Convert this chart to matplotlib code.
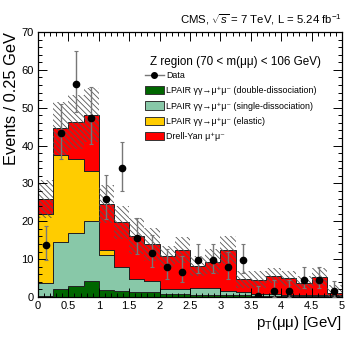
import numpy as np
import matplotlib
matplotlib.use("Agg")
import matplotlib.pyplot as plt
from matplotlib.patches import Patch
from matplotlib.lines import Line2D
from matplotlib.ticker import MultipleLocator, FormatStrFormatter

plt.rcParams['font.family'] = ['Liberation Sans', 'DejaVu Sans']
plt.rcParams['mathtext.fontset'] = 'custom'
plt.rcParams['mathtext.rm'] = 'Liberation Sans'
plt.rcParams['mathtext.it'] = 'Liberation Sans:italic'
plt.rcParams['hatch.linewidth'] = 0.6

# pT bins, 0.25 GeV wide
edges = np.linspace(0, 5, 21)

# stacked MC, events per bin (bottom to top)
double_diss = [0.2, 2.1, 3.0, 4.2, 1.8, 1.5, 1.2, 1.2, 0.7, 0.7,
               0.4, 0.4, 0.4, 0.4, 0.3, 0.3, 0.3, 0.3, 0.3, 0.3]
single_diss = [3.5, 12.3, 14.0, 15.9, 9.3, 6.5, 3.5, 3.1, 1.3, 1.3,
               1.9, 2.0, 1.2, 1.0, 0.4, 0.4, 0.2, 0.2, 0.2, 0.2]
elastic = [18.2, 23.0, 19.4, 13.2, 1.3, 0, 0, 0, 0, 0,
           0, 0, 0, 0, 0, 0, 0, 0, 0, 0]
drell_yan = [4.0, 7.2, 9.8, 14.8, 12.1, 11.7, 11.4, 9.6, 8.7, 10.5,
             5.9, 6.9, 10.7, 3.3, 3.9, 4.9, 4.4, 3.2, 4.8, 0.6]
# uncertainty on total prediction (hatched band half-width)
mc_unc = [5.1, 7.0, 7.2, 7.2, 5.0, 4.4, 4.8, 4.4, 2.8, 3.4,
          2.7, 3.3, 3.7, 2.3, 2.3, 2.0, 2.0, 1.9, 2.3, 2.1]

# data with asymmetric errors
data = [13.8, 43.3, 56.3, 47.3, 25.9, 34.0, 15.7, 11.7, 7.8, 6.7,
        9.7, 9.7, 7.8, 9.7, 0.3, 1.5, 1.5, 4.5, 4.5, 1.5]
data_hi = [18.8, 51.0, 65.0, 55.4, 32.1, 40.9, 21.0, 16.4, 12.8, 10.7,
           14.0, 14.0, 12.0, 14.0, 2.9, 4.5, 4.5, 8.0, 8.0, 4.3]
data_lo = [9.8, 36.4, 48.9, 40.4, 20.6, 28.1, 11.4, 8.0, 4.8, 3.9,
           6.4, 6.4, 4.7, 6.4, 0.0, 0.0, 0.0, 2.3, 2.3, 0.0]

components = [
    (double_diss, '#006600', 'LPAIR γγ→μ⁺μ⁻ (double-dissociation)'),
    (single_diss, '#88c8a8', 'LPAIR γγ→μ⁺μ⁻ (single-dissociation)'),
    (elastic, '#ffcc00', 'LPAIR γγ→μ⁺μ⁻ (elastic)'),
    (drell_yan, '#ff0000', 'Drell-Yan μ⁺μ⁻'),
]

fig = plt.figure(figsize=(3.54, 3.40), dpi=100)
ax = fig.add_axes([38/354, 1-297/340, 304/354, 265/340])

base = np.zeros(len(edges) - 1)
handles = []
for vals, col, lab in components:
    top = base + np.array(vals)
    ax.stairs(top, edges, baseline=base, fill=True, facecolor=col,
              edgecolor='#222222', linewidth=0.7)
    handles.append(Patch(facecolor=col, edgecolor='#333333', linewidth=0.7, label=lab))
    base = top

total = base
unc = np.array(mc_unc)
ax.stairs(total + unc, edges, baseline=total - unc, fill=True,
          facecolor='none', edgecolor='#555555', hatch='\\\\\\\\\\\\', linewidth=0)

centers = 0.5 * (edges[:-1] + edges[1:])
d = np.array(data)
yerr = [d - np.array(data_lo), np.array(data_hi) - d]
ax.errorbar(centers, d, yerr=yerr, fmt='o', color='black', ms=4.5,
            ecolor='#777777', elinewidth=1.0, capsize=1.2, capthick=0.8, zorder=5)

ax.set_xlim(0, 5)
ax.set_ylim(0, 70)
ax.xaxis.set_major_locator(MultipleLocator(0.5))
ax.xaxis.set_minor_locator(MultipleLocator(0.1))
ax.yaxis.set_major_locator(MultipleLocator(10))
ax.yaxis.set_minor_locator(MultipleLocator(2))
ax.xaxis.set_major_formatter(FormatStrFormatter('%g'))
ax.yaxis.set_major_formatter(FormatStrFormatter('%g'))
ax.tick_params(which='both', direction='in', top=True, right=True, labelsize=8, width=0.7)
ax.tick_params(which='major', length=6.5, pad=3)
ax.tick_params(which='minor', length=3.2)
for sp in ax.spines.values():
    sp.set_linewidth(0.9)
ax.yaxis.get_major_ticks()[0].label1.set_visible(False)

ax.set_ylabel('Events / 0.25 GeV', fontsize=11.8, loc='top', labelpad=2)
ax.set_xlabel(r'p$_{\mathrm{T}}$(μμ) [GeV]', fontsize=10.8, loc='right', labelpad=2)

fig.text(342/354, 1-20/340, r'CMS, $\sqrt{s}$ = 7 TeV, L = 5.24 fb$^{-1}$',
         ha='right', va='center', fontsize=8.2)
ax.text(0.651, 0.885, 'Z region (70 < m(μμ) < 106 GeV)', transform=ax.transAxes,
        ha='center', va='center', fontsize=8.4)

data_handle = Line2D([], [], color='#777777', marker='o', markerfacecolor='black',
                     markeredgecolor='black', ms=4, lw=1, label='Data')
ax.legend(handles=[data_handle] + handles, loc='upper left',
          bbox_to_anchor=(145/354, 1-71/340), bbox_transform=fig.transFigure,
          frameon=False, fontsize=6.4, handlelength=2.1, handleheight=1.05,
          labelspacing=0.68, handletextpad=0.3, borderpad=0, borderaxespad=0)

fig.savefig('out.png', dpi=100)
